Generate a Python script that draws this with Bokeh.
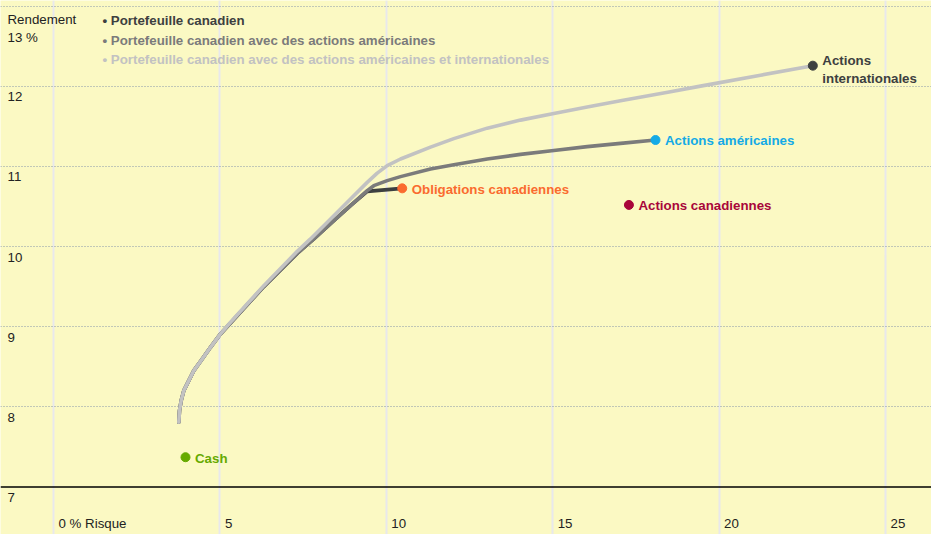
from bokeh.plotting import figure
from bokeh.models import FixedTicker, Span, Label, ColumnDataSource
from bokeh.core.properties import value
from bokeh.embed import file_html
from bokeh.resources import INLINE

# ---------------- data ----------------
# Portefeuille canadien
risk_can = [3.765, 3.786, 3.837, 3.915, 4.065, 4.216, 4.468, 4.717, 5.018, 5.319,
            6.319, 7.323, 7.822, 8.422, 8.924, 9.426, 10.478]
ret_can = [7.808, 7.955, 8.079, 8.203, 8.328, 8.452, 8.597, 8.743, 8.910, 9.045,
           9.500, 9.915, 10.095, 10.323, 10.510, 10.688, 10.726]

# Portefeuille canadien avec des actions américaines
risk_us = [3.765, 3.786, 3.837, 3.915, 4.065, 4.216, 4.468, 4.717, 5.018, 5.319,
           6.319, 7.323, 7.822, 8.422, 8.924, 9.426, 9.624, 10.027, 10.427, 11.328,
           12.028, 13.032, 14.032, 15.033, 16.037, 17.037, 18.089]
ret_us = [7.808, 7.955, 8.079, 8.203, 8.328, 8.452, 8.597, 8.743, 8.910, 9.045,
          9.500, 9.915, 10.095, 10.323, 10.510, 10.697, 10.759, 10.822, 10.872, 10.968,
          11.020, 11.092, 11.150, 11.198, 11.246, 11.287, 11.329]

# Portefeuille canadien avec des actions américaines et internationales
risk_int = [3.765, 3.786, 3.837, 3.915, 4.065, 4.216, 4.468, 4.717, 5.018, 5.319,
            6.319, 7.323, 7.722, 8.422, 8.924, 9.426, 9.727, 10.027, 10.427, 11.328,
            12.028, 13.032, 14.032, 15.033, 16.037, 17.037, 18.540, 19.441, 21.244,
            22.816]
ret_int = [7.808, 7.955, 8.079, 8.203, 8.328, 8.452, 8.597, 8.743, 8.910, 9.055,
           9.512, 9.940, 10.095, 10.385, 10.594, 10.800, 10.915, 11.009, 11.092, 11.240,
           11.346, 11.477, 11.577, 11.660, 11.741, 11.819, 11.932, 12.001, 12.137,
           12.256]

asset_names = ["Cash", "Obligations canadiennes", "Actions américaines",
               "Actions canadiennes", "Actions\ninternationales"]
asset_risk = [3.966, 10.478, 18.089, 17.29, 22.816]
asset_return = [7.372, 10.726, 11.329, 10.519, 12.256]

legend_labels = ["Portefeuille canadien",
                 "Portefeuille canadien avec des actions américaines",
                 "Portefeuille canadien avec des actions américaines et internationales"]

x_ticks = [0, 5, 10, 15, 20, 25]
x_tick_labels = ["0 % Risque", "5", "10", "15", "20", "25"]
y_ticks = [7, 8, 9, 10, 11, 12, 13]
y_tick_labels = ["7", "8", "9", "10", "11", "12", "13 %"]
y_title = "Rendement"

# ---------------- style ----------------
BG = "#FBF9C3"
DARK = "#3D4040"
MID = "#7B7B7B"
LIGHT = "#C2C2C2"
asset_colors = ["#66AA00", "#FA6B2F", "#14AAE6", "#A8063A", "#3D4040"]
FONT = "Liberation Sans"
FS = "13.3px"

W, H = 931, 534
x_lo, x_hi = -1.593, 26.382
y_lo, y_hi = 6.408, 13.069

p = figure(width=W, height=H, x_range=(x_lo, x_hi), y_range=(y_lo, y_hi),
           output_backend="svg", toolbar_location=None,
           x_axis_location=None, y_axis_location=None, min_border=0,
           background_fill_color=BG, border_fill_color=BG, outline_line_color=None)

p.xgrid.ticker = FixedTicker(ticks=x_ticks)
p.xgrid.grid_line_color = "#E8E8EC"
p.xgrid.grid_line_width = 2
p.ygrid.ticker = FixedTicker(ticks=y_ticks[1:])
p.ygrid.grid_line_color = "#8696AA"
p.ygrid.grid_line_width = 1.2
p.ygrid.grid_line_dash = "1 2"

p.add_layout(Span(location=y_ticks[0], dimension="width", line_color="black", line_width=1.6))

# curves
for xs, ys, col in [(risk_can, ret_can, DARK), (risk_us, ret_us, MID), (risk_int, ret_int, LIGHT)]:
    p.line(xs, ys, line_color=col, line_width=3.6, line_join="round", line_cap="round")

# asset points
src = ColumnDataSource(dict(x=asset_risk, y=asset_return, name=asset_names, c=asset_colors))
p.scatter("x", "y", source=src, size=9, fill_color="c", line_color="c")

single = ColumnDataSource(dict(x=asset_risk[:4], y=asset_return[:4], name=asset_names[:4], c=asset_colors[:4]))
p.text("x", "y", text="name", source=single, text_color="c", x_offset=9.5, y_offset=1,
       text_baseline="middle", text_align="left", text_font=value(FONT),
       text_font_style="bold", text_font_size=FS)
multi = ColumnDataSource(dict(x=asset_risk[4:], y=asset_return[4:], name=asset_names[4:], c=asset_colors[4:]))
p.text("x", "y", text="name", source=multi, text_color="c", x_offset=9.5, y_offset=-13,
       text_baseline="top", text_align="left", text_font=value(FONT),
       text_font_style="bold", text_font_size=FS, text_line_height=1.2)

# tick labels
xt = ColumnDataSource(dict(x=x_ticks, y=[y_lo] * len(x_ticks), t=x_tick_labels))
p.text("x", "y", text="t", source=xt, x_offset=5, y_offset=-11, text_baseline="middle",
       text_align="left", text_color="#222222", text_font=value(FONT), text_font_size=FS)
ylabels = y_tick_labels[:-1] + [y_title + "\n" + y_tick_labels[-1]]
yt = ColumnDataSource(dict(x=[x_lo] * len(y_ticks), y=y_ticks, t=ylabels))
p.text("x", "y", text="t", source=yt, x_offset=7, y_offset=6, text_baseline="top",
       text_align="left", text_color="#222222", text_font=value(FONT), text_font_size=FS,
       text_line_height=1.2)

# legend
for i, (lab, col) in enumerate(zip(legend_labels, [DARK, MID, LIGHT])):
    p.add_layout(Label(x=102, y=H - 20 - 19.5 * i, x_units="screen", y_units="screen",
                       text="\u2022 " + lab, text_color=col, text_font=FONT,
                       text_font_style="bold", text_font_size=FS, text_baseline="middle"))

open("out.html", "w").write(file_html(p, INLINE))
